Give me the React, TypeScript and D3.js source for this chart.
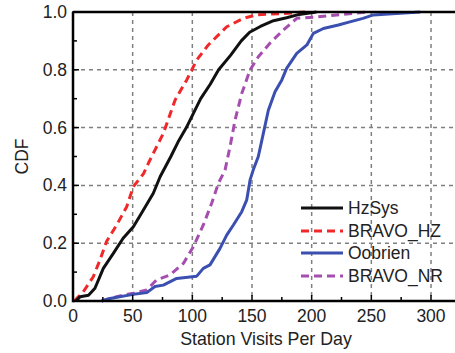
import React from "react";
import * as d3 from "d3";

const hzX = [2.5, 6, 13, 18.4, 25.4, 33.8, 42, 50.6, 59, 67.3, 73, 82, 88, 95, 101, 107, 115, 122, 132, 141, 148, 157, 168, 179, 188, 204];
const hzY = [0, 0.015, 0.02, 0.044, 0.113, 0.165, 0.217, 0.257, 0.315, 0.373, 0.43, 0.5, 0.55, 0.6, 0.65, 0.7, 0.75, 0.8, 0.85, 0.9, 0.93, 0.95, 0.97, 0.98, 0.99, 1.0];

const bhzX = [1, 8.6, 17, 22.6, 28, 36.6, 45, 50.5, 59, 64.5, 75.7, 85.5, 95.3, 103.7, 113.4, 128.8, 142.8, 154, 176, 196];
const bhzY = [0, 0.032, 0.084, 0.142, 0.205, 0.263, 0.326, 0.395, 0.44, 0.488, 0.58, 0.695, 0.765, 0.834, 0.886, 0.949, 0.978, 0.99, 0.995, 1.0];

const oobX = [24, 31, 50.5, 61.8, 68.7, 75.7, 86.9, 103.7, 109.2, 114.8, 123.2, 128.8, 134.4, 141.4, 145.6, 148.4, 151, 155.3, 159.5, 163.7, 169.3, 175, 179, 187.5, 196, 201.4, 209.8, 222.4, 232, 243, 251.7, 271, 291];
const oobY = [0, 0.009, 0.023, 0.029, 0.05, 0.055, 0.078, 0.086, 0.113, 0.125, 0.182, 0.228, 0.263, 0.309, 0.35, 0.419, 0.453, 0.5, 0.58, 0.66, 0.724, 0.765, 0.805, 0.857, 0.886, 0.926, 0.943, 0.955, 0.966, 0.978, 0.99, 0.995, 1.0];

const bnrX = [24, 36.6, 50.5, 61.8, 70, 81.3, 92.5, 100.9, 109.2, 116.2, 121.8, 127.4, 131.6, 135.8, 141.4, 148.4, 155.3, 165, 176.3, 187.5, 204.3, 221, 235, 246];
const bnrY = [0, 0.015, 0.027, 0.038, 0.073, 0.09, 0.13, 0.188, 0.263, 0.338, 0.407, 0.453, 0.534, 0.626, 0.718, 0.8, 0.845, 0.892, 0.938, 0.978, 0.983, 0.99, 0.995, 1.0];

const xTicks = [0, 50, 100, 150, 200, 250, 300];
const xMinor = [25, 75, 125, 175, 225, 275];
const yTicks = [0, 0.2, 0.4, 0.6, 0.8, 1.0];
const yMinor = [0.1, 0.3, 0.5, 0.7, 0.9];

const seriesNames = ["HzSys", "BRAVO_HZ", "Oobrien", "BRAVO_NR"];
const seriesColors = ["#111111", "#f0282a", "#3a4fb0", "#a64eb0"];
const seriesDash = [null, "8,5", null, "8,5"];

export default function App() {
  const W = 455, H = 353;
  const left = 73, top = 12, bottom = 301;
  const x = d3.scaleLinear().domain([0, 300]).range([left, 431]);
  const y = d3.scaleLinear().domain([0, 1]).range([bottom, top]);
  const font = "'Liberation Sans', Arial, sans-serif";

  const series = [
    [hzX, hzY],
    [bhzX, bhzY],
    [oobX, oobY],
    [bnrX, bnrY],
  ];
  const line = d3.line<[number, number]>().x(d => x(d[0])).y(d => y(d[1]));
  const order = [3, 2, 1, 0];

  return (
    <svg width={W} height={H} style={{ position: "absolute", left: 0, top: 0 }} fontFamily={font}>
      <rect x={0} y={0} width={W} height={H} fill="#fff" />
      {xTicks.filter(t => t > 0).map(t => (
        <line key={"gx" + t} x1={x(t)} x2={x(t)} y1={top} y2={bottom} stroke="#808080" strokeWidth={1.5} strokeDasharray="4,4" />
      ))}
      {yTicks.filter(t => t > 0 && t < 1).map(t => (
        <line key={"gy" + t} x1={left} x2={W} y1={y(t)} y2={y(t)} stroke="#808080" strokeWidth={1.5} strokeDasharray="4,4" />
      ))}
      {order.map(i => {
        const [xs, ys] = series[i];
        const pts = xs.map((v, k) => [v, ys[k]] as [number, number]);
        return (
          <path key={"s" + i} d={line(pts) || ""} fill="none" stroke={seriesColors[i]} strokeWidth={3}
            strokeDasharray={seriesDash[i] || undefined} strokeLinejoin="round" />
        );
      })}
      <line x1={left} x2={W} y1={top} y2={top} stroke="#000" strokeWidth={2.5} />
      <line x1={left} x2={W} y1={bottom} y2={bottom} stroke="#000" strokeWidth={2.5} />
      <line x1={left} x2={left} y1={top} y2={bottom + 1.2} stroke="#000" strokeWidth={2.5} />
      {xTicks.map(t => (
        <line key={"xt" + t} x1={x(t)} x2={x(t)} y1={bottom} y2={bottom - 6} stroke="#000" strokeWidth={1.5} />
      ))}
      {xMinor.map(t => (
        <line key={"xm" + t} x1={x(t)} x2={x(t)} y1={bottom} y2={bottom - 4} stroke="#000" strokeWidth={1.5} />
      ))}
      {yTicks.map(t => (
        <line key={"yt" + t} x1={left - 1} x2={left + 6} y1={y(t)} y2={y(t)} stroke="#000" strokeWidth={1.5} />
      ))}
      {yMinor.map(t => (
        <line key={"ym" + t} x1={left} x2={left + 4} y1={y(t)} y2={y(t)} stroke="#000" strokeWidth={1.5} />
      ))}
      {xTicks.map(t => (
        <text key={"xl" + t} x={x(t)} y={322} fontSize={17.5} textAnchor="middle" fill="#222">{t}</text>
      ))}
      {yTicks.map(t => (
        <text key={"yl" + t} x={67} y={y(t) + 6} fontSize={17.5} textAnchor="end" fill="#222">{t.toFixed(1)}</text>
      ))}
      <text x={266} y={345} fontSize={17.8} textAnchor="middle" fill="#222">Station Visits Per Day</text>
      <text transform={`translate(28,${(top + bottom) / 2}) rotate(-90)`} fontSize={17.5} textAnchor="middle" fill="#222">CDF</text>
      {seriesNames.map((n, i) => {
        const ly = [208, 231, 253, 276][i];
        return (
          <g key={"lg" + i}>
            <line x1={301} x2={343} y1={ly} y2={ly} stroke={seriesColors[i]} strokeWidth={3} strokeDasharray={seriesDash[i] || undefined} />
            <text x={348} y={ly + 6} fontSize={17.5} fill="#222">{n}</text>
          </g>
        );
      })}
    </svg>
  );
}
